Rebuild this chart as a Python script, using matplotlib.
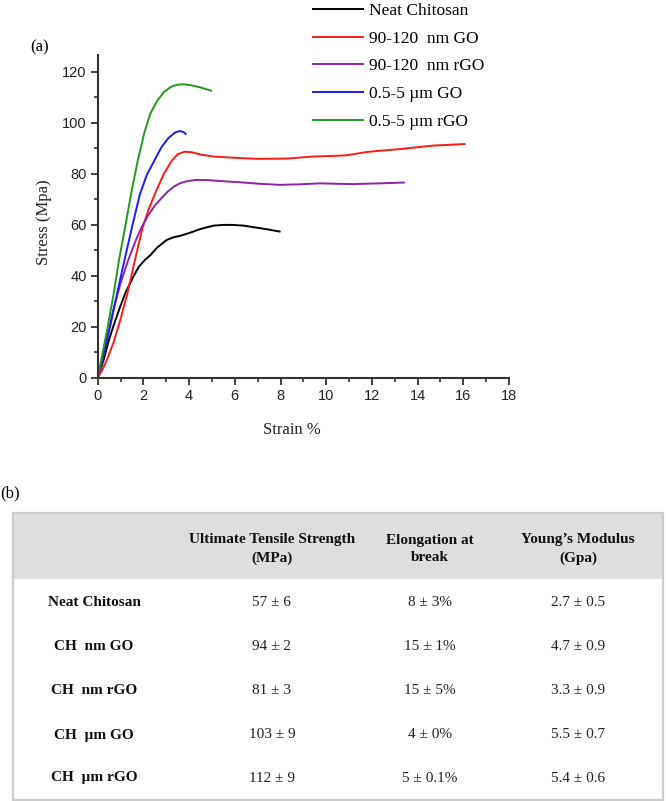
import numpy as np
import matplotlib
matplotlib.use("Agg")
import matplotlib.pyplot as plt
from matplotlib.patches import Rectangle
from matplotlib.ticker import MultipleLocator

# stress-strain curves (strain %, stress MPa)
neat_x = [0, 0.26, 0.5, 0.68, 0.95, 1.2, 1.56, 1.8, 2.07, 2.3, 2.6, 3.02, 3.3, 3.6, 3.97,
          4.5, 5.06, 5.5, 5.9, 6.4, 6.82, 7.4, 7.96]
neat_y = [0, 7, 15, 20, 27, 33, 39.6, 43.5, 46.2, 48, 51, 54, 55, 55.6, 56.6,
          58.3, 59.6, 59.9, 59.9, 59.6, 59.0, 58.2, 57.3]

nm_go_x = [0, 0.2, 0.45, 0.7, 1.0, 1.3, 1.6, 1.97, 2.25, 2.55, 2.9, 3.24, 3.5, 3.8, 4.1, 4.5,
           5.06, 6.0, 6.96, 8.28, 9.44, 10.5, 10.9, 11.8, 12.4, 13.2, 14.7, 16.05]
nm_go_y = [0, 3, 8, 14, 23, 33, 45, 59, 66.5, 73, 80, 85, 87.6, 88.6, 88.4, 87.5,
           86.7, 86.2, 85.8, 85.9, 86.7, 87, 87.2, 88.5, 89, 89.6, 91, 91.6]

nm_rgo_x = [0, 0.2, 0.45, 0.68, 1.0, 1.34, 1.65, 1.93, 2.2, 2.5, 2.8, 3.07, 3.35, 3.6, 3.9,
            4.26, 4.77, 5.5, 6.23, 7.1, 7.98, 8.8, 9.74, 10.5, 11.2, 12.4, 13.4]
nm_rgo_y = [0, 6.9, 17, 26.5, 37, 46.2, 53.5, 59.2, 63.5, 67.5, 70.5, 73, 75, 76.2, 77,
            77.5, 77.5, 77, 76.6, 76, 75.6, 75.8, 76.2, 76, 75.9, 76.2, 76.5]

um_go_x = [0, 0.25, 0.54, 0.85, 1.17, 1.5, 1.85, 2.15, 2.5, 2.8, 3.1, 3.4, 3.6, 3.75, 3.85]
um_go_y = [0, 9, 20, 33, 46, 59, 72, 79.5, 85.5, 90.5, 94, 96.2, 96.7, 96.3, 95.6]

um_rgo_x = [0, 0.2, 0.44, 0.7, 0.93, 1.2, 1.46, 1.75, 2.04, 2.3, 2.6, 2.9, 3.2, 3.5, 3.8,
            4.1, 4.5, 4.96]
um_rgo_y = [0, 9, 20, 33, 46, 59, 72, 85, 96, 103.5, 108.5, 112, 114, 114.9, 115,
            114.6, 113.8, 112.5]

series_labels = ["Neat Chitosan", "90-120  nm GO", "90-120  nm rGO", "0.5-5 \u00b5m GO", "0.5-5 \u00b5m rGO"]
series_colors = ["#000000", "#ff1a1a", "#8e24a6", "#1a1aff", "#1f9a1f"]

# table contents
col_headers = ["Ultimate Tensile Strength\n(MPa)", "Elongation at\nbreak", "Young\u2019s Modulus\n(Gpa)"]
row_labels = ["Neat Chitosan", "CH  nm GO", "CH  nm rGO", "CH  \u00b5m GO", "CH  \u00b5m rGO"]
uts = ["57 \u00b1 6", "94 \u00b1 2", "81 \u00b1 3", "103 \u00b1 9", "112 \u00b1 9"]
elong = ["8 \u00b1 3%", "15 \u00b1 1%", "15 \u00b1 5%", "4 \u00b1 0%", "5 \u00b1 0.1%"]
modulus = ["2.7 \u00b1 0.5", "4.7 \u00b1 0.9", "3.3 \u00b1 0.9", "5.5 \u00b1 0.7", "5.4 \u00b1 0.6"]

W, H = 666, 801
fig = plt.figure(figsize=(W / 100, H / 100), dpi=100)

serif = "Liberation Serif"
sans = "Liberation Sans"

ax = fig.add_axes([97.7 / W, 1 - 377.7 / H, (509 - 97.7) / W, (377.7 - 55) / H])
curves = [(neat_x, neat_y), (nm_go_x, nm_go_y), (nm_rgo_x, nm_rgo_y), (um_go_x, um_go_y), (um_rgo_x, um_rgo_y)]
for (xs, ys), lab, col in zip(curves, series_labels, series_colors):
    ax.plot(xs, ys, color=col, lw=1.4, label=lab, solid_joinstyle="round")

ax.set_xlim(0, 18)
ax.set_ylim(0, 126.5)
ax.xaxis.set_major_locator(MultipleLocator(2))
ax.xaxis.set_minor_locator(MultipleLocator(1))
ax.yaxis.set_major_locator(MultipleLocator(20))
ax.yaxis.set_minor_locator(MultipleLocator(10))
for s in ["top", "right"]:
    ax.spines[s].set_visible(False)
for s in ["left", "bottom"]:
    ax.spines[s].set_color("#333333")
    ax.spines[s].set_linewidth(1.5)
ax.tick_params(which="major", length=5, width=1.3, color="#333333", labelsize=10.5,
               labelcolor="#222222", pad=3)
ax.tick_params(which="minor", length=3, width=1.2, color="#333333")
for t in ax.get_xticklabels() + ax.get_yticklabels():
    t.set_fontfamily(sans)

leg = ax.legend(loc="upper left", bbox_to_anchor=(313 / W, 1 - 3 / H), bbox_transform=fig.transFigure,
                frameon=False, prop={"family": serif, "size": 12.5}, handlelength=2.9,
                handletextpad=0.3, labelspacing=0.66, borderaxespad=0, borderpad=0)

fig.text(292 / W, 1 - 430 / H, "Strain %", family=serif, fontsize=12, ha="center", va="center", color="#222222")
fig.text(44 / W, 1 - 222 / H, "Stress (Mpa)", family=serif, fontsize=12, ha="center", va="center",
         rotation=90, color="#222222")
fig.text(40 / W, 1 - 47 / H, "(a)", family=serif, fontsize=12, ha="center", va="center")
fig.text(10 / W, 1 - 493 / H, "(b)", family=serif, fontsize=12, ha="center", va="center")

# table drawn in pixel coordinates
tab = fig.add_axes([0, 0, 1, 1])
tab.set_xlim(0, W)
tab.set_ylim(H, 0)
tab.axis("off")
tab.patch.set_alpha(0)
tab.add_patch(Rectangle((13, 513), 650, 66, facecolor="#dedede", edgecolor="none"))
tab.add_patch(Rectangle((13, 513), 650, 287, facecolor="none", edgecolor="#cccccc", lw=1.6))

col_x = [272, 430, 578]
for cx, txt in zip(col_x, col_headers):
    tab.text(cx, 549, txt, family=serif, fontsize=11, fontweight="bold", ha="center", va="center",
             linespacing=1.45, color="#111111")

row_y = [603, 647, 691, 735, 778]
for ry, lab, a, b, c in zip(row_y, row_labels, uts, elong, modulus):
    tab.text(94, ry, lab, family=serif, fontsize=11, fontweight="bold", ha="center", va="center", color="#111111")
    for cx, v in zip(col_x, [a, b, c]):
        tab.text(cx, ry, v, family=serif, fontsize=11, ha="center", va="center", color="#222222")

fig.savefig("out.png", dpi=100)
